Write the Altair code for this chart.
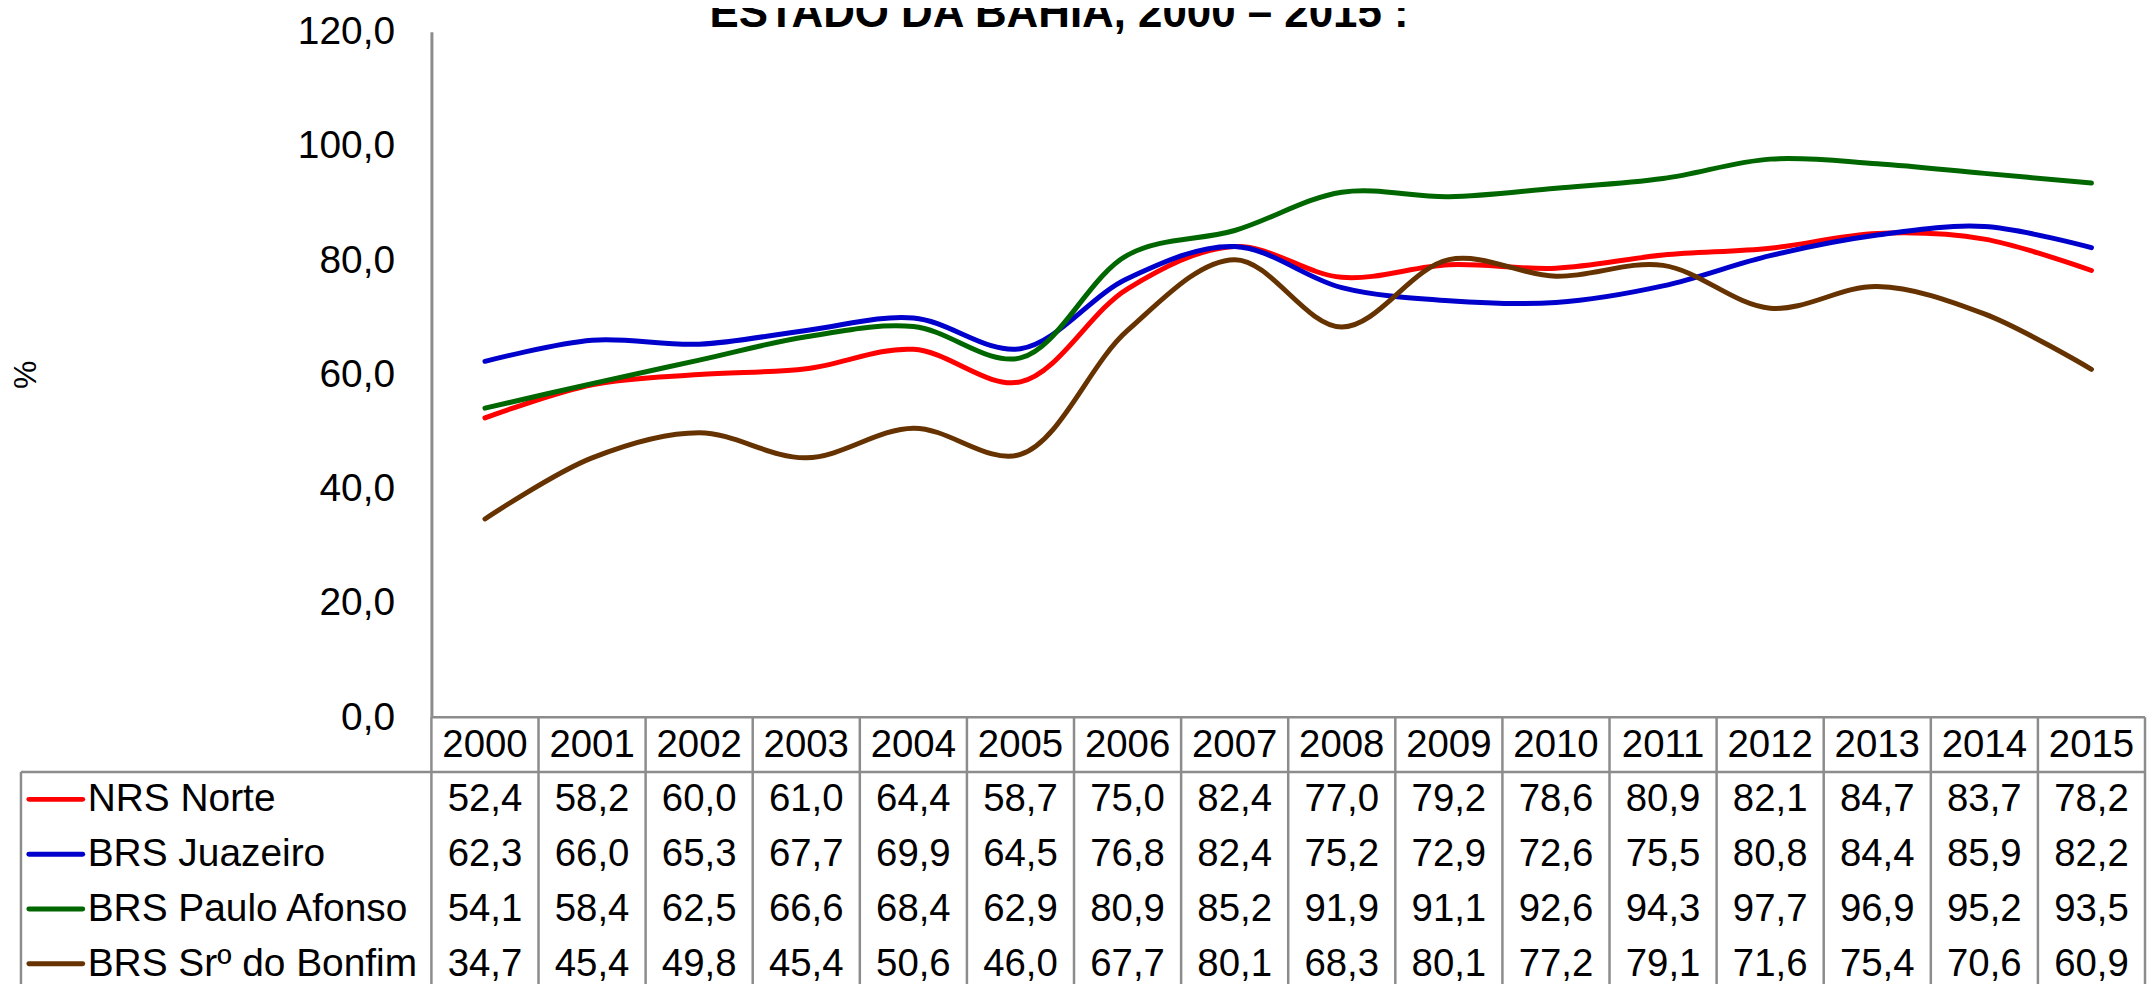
import altair as alt
import pandas as pd

# ---------------- data ----------------
years = list(range(2000, 2016))
series = ["NRS Norte", "BRS Juazeiro", "BRS Paulo Afonso", "BRS Srº do Bonfim"]
colors = ["#FF0000", "#0000CC", "#006600", "#663300"]
nrs_norte = [52.4, 58.2, 60.0, 61.0, 64.4, 58.7, 75.0, 82.4, 77.0, 79.2, 78.6, 80.9, 82.1, 84.7, 83.7, 78.2]
brs_juazeiro = [62.3, 66.0, 65.3, 67.7, 69.9, 64.5, 76.8, 82.4, 75.2, 72.9, 72.6, 75.5, 80.8, 84.4, 85.9, 82.2]
brs_paulo_afonso = [54.1, 58.4, 62.5, 66.6, 68.4, 62.9, 80.9, 85.2, 91.9, 91.1, 92.6, 94.3, 97.7, 96.9, 95.2, 93.5]
brs_bonfim = [34.7, 45.4, 49.8, 45.4, 50.6, 46.0, 67.7, 80.1, 68.3, 80.1, 77.2, 79.1, 71.6, 75.4, 70.6, 60.9]
y_ticks = [0, 20, 40, 60, 80, 100, 120]
title_text = "ESTADO DA BAHIA, 2000 – 2015 :"
y_title = "%"

values = [nrs_norte, brs_juazeiro, brs_paulo_afonso, brs_bonfim]

FONT = "Liberation Sans"
GRID = "#8c8c8c"
W, H = 1720, 688

rows = []
for i, (s, vals) in enumerate(zip(series, values)):
    for y, v in zip(years, vals):
        rows.append({"series": s, "year": y, "value": v, "row": i + 1,
                     "label": f"{v:.1f}".replace(".", ",")})
df = pd.DataFrame(rows)
hdr = pd.DataFrame({"year": years, "row": 0, "label": [str(y) for y in years]})
leg = pd.DataFrame({"series": series, "row": list(range(1, len(series) + 1))})
bounds = pd.DataFrame({"b": [y - 0.5 for y in years] + [years[-1] + 0.5], "r0": -0.5, "r1": 4.6})

xscale = alt.Scale(domain=[years[0] - 0.5, years[-1] + 0.5], nice=False, zero=False)
rowscale = alt.Scale(domain=[0, 4], range=[715.5, 935.5], nice=False, zero=False)
yscale = alt.Scale(domain=[0, 120], nice=False)
cscale = alt.Scale(domain=series, range=colors)

yaxis = alt.Axis(
    values=y_ticks,
    labelExpr="replace(format(datum.value, '.1f'), '.', ',')",
    labelFont=FONT, labelFontSize=39, labelColor="black", labelPadding=37,
    ticks=False, tickSize=0, grid=False,
    domainColor=GRID, domainWidth=3,
    title=y_title, titleFont=FONT, titleFontSize=32, titleFontWeight="normal",
    titleColor="black", titleAngle=270, titleX=-407, titleY=H / 2,
    titleAlign="center", titleBaseline="middle",
)

layers = []
for i, s in enumerate(series):
    layers.append(
        alt.Chart(df).transform_filter(alt.datum.series == s)
        .mark_line(interpolate="catmull-rom", strokeWidth=5, strokeCap="round")
        .encode(
            x=alt.X("year:Q", scale=xscale, axis=None),
            y=alt.Y("value:Q", scale=yscale, axis=yaxis if i == 0 else None),
            color=alt.Color("series:N", scale=cscale, legend=None),
            order="year:Q",
        )
    )

# table grid
vlines = alt.Chart(bounds).mark_rule(color=GRID, strokeWidth=2.5).encode(
    x=alt.X("b:Q", scale=xscale, axis=None),
    y=alt.Y("r0:Q", scale=rowscale, axis=None),
    y2="r1:Q",
)
left_border = alt.Chart(pd.DataFrame({"r0": [0.5], "r1": [4.6]})).mark_rule(color=GRID, strokeWidth=2.5).encode(
    x=alt.value(-412),
    y=alt.Y("r0:Q", scale=rowscale, axis=None),
    y2="r1:Q",
)
top_line = alt.Chart(pd.DataFrame({"r": [-0.5]})).mark_rule(color=GRID, strokeWidth=2.5).encode(
    x=alt.value(0), x2=alt.value(W),
    y=alt.Y("r:Q", scale=rowscale, axis=None),
)
hdr_line = alt.Chart(pd.DataFrame({"r": [0.5]})).mark_rule(color=GRID, strokeWidth=2.5).encode(
    x=alt.value(-412), x2=alt.value(W),
    y=alt.Y("r:Q", scale=rowscale, axis=None),
)

hdr_text = alt.Chart(hdr).mark_text(font=FONT, fontSize=38.5, color="black").encode(
    x=alt.X("year:Q", scale=xscale, axis=None),
    y=alt.Y("row:Q", scale=rowscale, axis=None),
    text="label:N",
)
val_text = alt.Chart(df).mark_text(font=FONT, fontSize=38.5, color="black").encode(
    x=alt.X("year:Q", scale=xscale, axis=None),
    y=alt.Y("row:Q", scale=rowscale, axis=None),
    text="label:N",
)
leg_sym = alt.Chart(leg).mark_rule(strokeWidth=5, strokeCap="round").encode(
    x=alt.value(-404), x2=alt.value(-350),
    y=alt.Y("row:Q", scale=rowscale, axis=None),
    color=alt.Color("series:N", scale=cscale, legend=None),
)
leg_text = alt.Chart(leg).mark_text(font=FONT, fontSize=39, color="black", align="left").encode(
    x=alt.value(-345),
    y=alt.Y("row:Q", scale=rowscale, axis=None),
    text="series:N",
)
title = alt.Chart(pd.DataFrame({"t": [title_text]})).mark_text(
    font=FONT, fontSize=44, fontWeight="bold", color="black", baseline="alphabetic"
).encode(x=alt.value(630), y=alt.value(-5), text="t:N")

chart = (
    alt.layer(vlines, left_border, top_line, hdr_line, hdr_text, val_text, leg_sym, leg_text,
              *layers, title)
    .resolve_scale(y="independent")
    .properties(
        width=W, height=H,
        autosize=alt.AutoSizeParams(type="none"),
        padding={"left": 425, "top": 22, "right": 3, "bottom": 266},
        background="white",
    )
    .configure_view(stroke=None)
)

chart.save("out.html", embed_options={"renderer": "svg", "actions": False})
